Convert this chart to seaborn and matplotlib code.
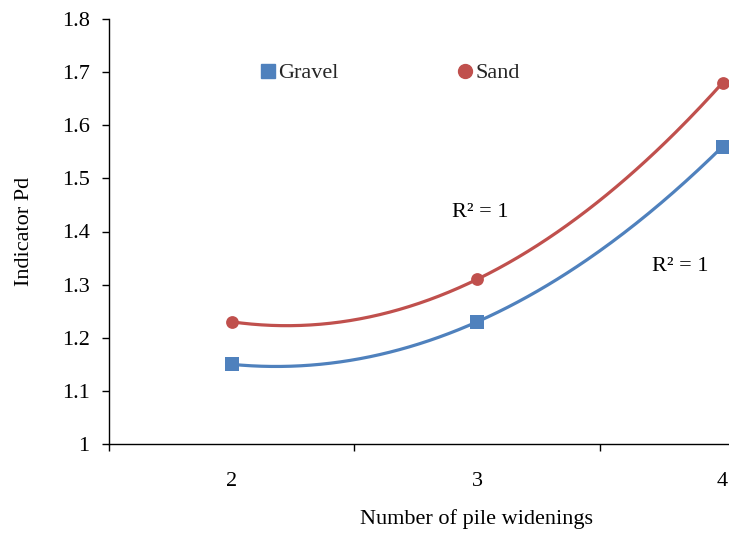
import numpy as np
import pandas as pd
import matplotlib
matplotlib.use("Agg")
import matplotlib.pyplot as plt
import seaborn as sns
from matplotlib.lines import Line2D
from matplotlib.ticker import FixedLocator

widenings = [2, 3, 4]
gravel = [1.15, 1.23, 1.56]
sand = [1.23, 1.31, 1.68]
y_ticks = [1, 1.1, 1.2, 1.3, 1.4, 1.5, 1.6, 1.7, 1.8]
y_tick_labels = ["1", "1.1", "1.2", "1.3", "1.4", "1.5", "1.6", "1.7", "1.8"]

sns.set_theme(style="white")
plt.rcParams["font.family"] = ["Liberation Serif", "DejaVu Serif"]

blue = "#4F81BD"
red = "#C0504D"
FS = 16

fig = plt.figure(figsize=(7.29, 5.34), dpi=100)
ax = fig.add_axes([109 / 729, 90 / 534, 620 / 729, 425 / 534])

xs = np.linspace(2, 4, 200)
for vals, col, mk in [(gravel, blue, "s"), (sand, red, "o")]:
    coef = np.polyfit(widenings, vals, 2)
    fit = pd.DataFrame({"x": xs, "y": np.polyval(coef, xs)})
    sns.lineplot(data=fit, x="x", y="y", ax=ax, color=col, lw=2.3, legend=False)
    pts = pd.DataFrame({"x": widenings, "y": vals})
    sns.scatterplot(data=pts, x="x", y="y", ax=ax, color=col, marker=mk,
                    s=95 if mk == "s" else 85, edgecolor=col, linewidth=0, zorder=5, legend=False)

ax.set_xlim(1.5, 4.026)
ax.set_ylim(1, 1.8)
ax.set_yticks(y_ticks)
ax.set_yticklabels(y_tick_labels)
ax.set_xticks(widenings)
ax.set_xticklabels([str(w) for w in widenings])
ax.xaxis.set_minor_locator(FixedLocator([1.5, 2.5, 3.5]))
ax.tick_params(axis="x", which="major", length=0, pad=20, labelsize=FS, colors="black")
ax.tick_params(axis="x", which="minor", length=5, width=1, direction="out", bottom=True, color="black")
ax.tick_params(axis="y", which="major", length=5, width=1, direction="out", left=True, pad=9,
               labelsize=FS, colors="black")

for s in ["top", "right"]:
    ax.spines[s].set_visible(False)
for s in ["left", "bottom"]:
    ax.spines[s].set_color("black")
    ax.spines[s].set_linewidth(1.0)

ax.set_xlabel("")
ax.set_ylabel("Indicator Pd", fontsize=FS, color="black")
ax.yaxis.set_label_coords((34 - 109) / 620, 0.5)
fig.text(477 / 729, 1 - 519 / 534, "Number of pile widenings", fontsize=FS,
         ha="center", va="center", color="black")

ax.text(3.011, 1.435, "R² = 1", fontsize=FS, ha="center", va="center", color="black")
ax.text(3.826, 1.335, "R² = 1", fontsize=FS, ha="center", va="center", color="black")

handles = [Line2D([], [], color=blue, marker="s", ls="none", markersize=10),
           Line2D([], [], color=red, marker="o", ls="none", markersize=10)]
ax.legend(handles, ["Gravel", "Sand"], ncol=2, frameon=False, fontsize=FS,
          loc="center", bbox_to_anchor=((389 - 109) / 620, (444 - 73) / 425),
          handletextpad=0.0, columnspacing=5.26, handlelength=0.9)

fig.savefig("out.png", dpi=100)
